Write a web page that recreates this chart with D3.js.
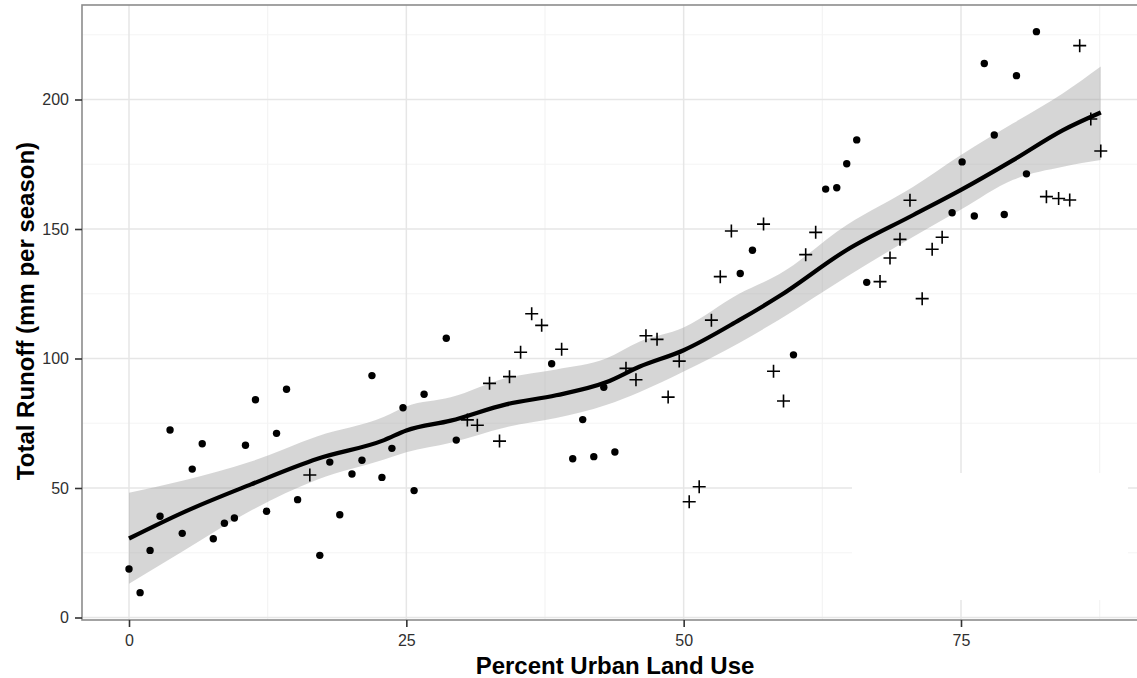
<!DOCTYPE html>
<html>
<head>
<meta charset="utf-8">
<script src="https://cdn.jsdelivr.net/npm/d3@7"></script>
<style>
  html, body { margin: 0; padding: 0; background: #ffffff; }
  svg { display: block; font-family: "Liberation Sans", Arial, sans-serif; }
</style>
</head>
<body>
<div id="chart"></div>
<script>
// --- data ---
// group drawn with filled dots
const dotX = [0.0, 1.0, 1.9, 2.8, 3.7, 4.8, 5.7, 6.6, 7.6, 8.6, 9.5, 10.5, 11.4, 12.4, 13.3, 14.2, 15.2,
  17.2, 18.1, 19.0, 20.1, 21.0, 21.9, 22.8, 23.7, 24.7, 25.7, 26.6, 28.6, 29.5,
  38.1, 40.0, 40.9, 41.9, 42.8, 43.8, 55.1, 56.2, 59.9,
  62.8, 63.8, 64.7, 65.6, 66.5, 74.2, 75.1, 76.2, 77.1, 78.0, 78.9, 80.0, 80.9, 81.8];
const dotY = [18.7, 9.6, 25.9, 39.1, 72.4, 32.5, 57.3, 67.1, 30.4, 36.4, 38.4, 66.5, 84.1, 41.0, 71.1, 88.1, 45.5,
  24.0, 60.0, 39.7, 55.4, 60.7, 93.4, 54.1, 65.3, 81.0, 49.0, 86.2, 107.8, 68.5,
  98.0, 61.3, 76.4, 62.1, 88.9, 63.9, 132.8, 141.8, 101.4,
  165.4, 165.9, 175.2, 184.4, 129.4, 156.3, 175.9, 155.0, 213.9, 186.3, 155.6, 209.2, 171.3, 226.2];

// group drawn with crosses
const crossX = [16.3, 30.5, 31.4, 32.5, 33.4, 34.3, 35.3, 36.3, 37.2, 39.0,
  44.8, 45.7, 46.6, 47.6, 48.6, 49.6, 50.5, 51.4, 52.5, 53.3, 54.3,
  57.2, 58.1, 59.0, 61.0, 61.9, 67.7, 68.6, 69.5, 70.4, 71.5, 72.4, 73.3,
  82.7, 83.8, 84.8, 85.7, 86.7, 87.6];
const crossY = [55.0, 76.3, 74.2, 90.4, 68.1, 93.0, 102.4, 117.3, 112.8, 103.6,
  96.2, 91.8, 108.8, 107.4, 85.1, 99.0, 44.7, 50.5, 114.8, 131.6, 149.2,
  151.9, 95.1, 83.6, 140.1, 148.7, 129.7, 138.8, 146.0, 161.1, 123.1, 142.2, 146.8,
  162.5, 161.8, 161.2, 220.8, 192.5, 180.1];

// smoother: fit and confidence band
const smoothX  = [0, 5, 11, 17, 23, 25, 29, 34, 38.5, 43, 46, 50, 55, 58.6, 64.7, 70.7, 75, 79.7, 84.2, 87.6];
const smoothFit = [30.5, 40.8, 51.4, 61.3, 68.5, 72.2, 76.0, 82.3, 85.8, 90.8, 96.8, 103.2, 114.8, 124.0, 141.9, 155.4, 165.1, 176.6, 188.2, 195.0];
const smoothLo  = [13.0, 26.0, 41.3, 53.3, 61.0, 63.8, 67.5, 73.5, 77.0, 82.0, 87.0, 95.0, 106.0, 115.0, 131.6, 147.0, 157.5, 169.0, 174.0, 176.6];
const smoothHi  = [48.2, 53.0, 60.2, 70.0, 77.5, 81.5, 85.0, 92.5, 95.8, 100.0, 106.5, 112.0, 125.0, 132.5, 151.5, 166.3, 178.6, 190.8, 202.4, 212.7];

// axes
const xMajor = [0, 25, 50, 75];
const xMinor = [12.5, 37.5, 62.5, 87.5];
const yMajor = [0, 50, 100, 150, 200];
const yMinor = [25, 75, 125, 175, 225];

const xTitle = "Percent Urban Land Use";
const yTitle = "Total Runoff (mm per season)";

// --- layout ---
const width = 1137, height = 678;
const panel = { left: 82, top: 5, right: 1148, bottom: 620 };

const x = d3.scaleLinear().domain([0, 75]).range([129, 961]);
const y = d3.scaleLinear().domain([0, 200]).range([617.5, 99.5]);

const svg = d3.select("#chart").append("svg")
  .attr("width", width)
  .attr("height", height);

svg.append("rect").attr("width", width).attr("height", height).attr("fill", "#ffffff");

const clip = svg.append("defs").append("clipPath").attr("id", "panel-clip");
clip.append("rect")
  .attr("x", panel.left).attr("y", panel.top)
  .attr("width", panel.right - panel.left).attr("height", panel.bottom - panel.top);

const g = svg.append("g").attr("clip-path", "url(#panel-clip)");

// grid lines
g.selectAll(".xminor").data(xMinor).join("line")
  .attr("x1", d => x(d)).attr("x2", d => x(d))
  .attr("y1", panel.top).attr("y2", panel.bottom)
  .attr("stroke", "#f4f4f4").attr("stroke-width", 1.2);
g.selectAll(".yminor").data(yMinor).join("line")
  .attr("y1", d => y(d)).attr("y2", d => y(d))
  .attr("x1", panel.left).attr("x2", panel.right)
  .attr("stroke", "#f4f4f4").attr("stroke-width", 1.2);
g.selectAll(".xmajor").data(xMajor).join("line")
  .attr("x1", d => x(d)).attr("x2", d => x(d))
  .attr("y1", panel.top).attr("y2", panel.bottom)
  .attr("stroke", "#e6e6e6").attr("stroke-width", 1.5);
g.selectAll(".ymajor").data(yMajor).join("line")
  .attr("y1", d => y(d)).attr("y2", d => y(d))
  .attr("x1", panel.left).attr("x2", panel.right)
  .attr("stroke", "#e6e6e6").attr("stroke-width", 1.5);

// blanked-out legend area
g.append("rect")
  .attr("x", 852).attr("y", 473)
  .attr("width", 276).attr("height", 127)
  .attr("fill", "#ffffff");

// confidence band and fit
const smooth = smoothX.map((d, i) => ({ x: d, fit: smoothFit[i], lo: smoothLo[i], hi: smoothHi[i] }));

g.append("path")
  .datum(smooth)
  .attr("d", d3.area()
    .x(d => x(d.x))
    .y0(d => y(d.lo))
    .y1(d => y(d.hi))
    .curve(d3.curveMonotoneX))
  .attr("fill", "#999999")
  .attr("fill-opacity", 0.4);

g.append("path")
  .datum(smooth)
  .attr("d", d3.line()
    .x(d => x(d.x))
    .y(d => y(d.fit))
    .curve(d3.curveMonotoneX))
  .attr("fill", "none")
  .attr("stroke", "#000000")
  .attr("stroke-width", 4.2);

// points
g.selectAll(".dot").data(dotX.map((d, i) => [d, dotY[i]])).join("circle")
  .attr("cx", d => x(d[0]))
  .attr("cy", d => y(d[1]))
  .attr("r", 3.7)
  .attr("fill", "#000000");

const arm = 6.5;
g.selectAll(".cross").data(crossX.map((d, i) => [d, crossY[i]])).join("path")
  .attr("d", d => {
    const cx = x(d[0]), cy = y(d[1]);
    return `M${cx - arm},${cy}H${cx + arm}M${cx},${cy - arm}V${cy + arm}`;
  })
  .attr("stroke", "#000000")
  .attr("stroke-width", 1.6)
  .attr("fill", "none");

// panel border
svg.append("rect")
  .attr("x", panel.left).attr("y", panel.top)
  .attr("width", panel.right - panel.left).attr("height", panel.bottom - panel.top)
  .attr("fill", "none")
  .attr("stroke", "#8c8c8c")
  .attr("stroke-width", 1.6);

// axes
const xAxis = svg.append("g")
  .attr("transform", `translate(0,${panel.bottom})`)
  .call(d3.axisBottom(x).tickValues(xMajor).tickSize(7).tickPadding(8));
const yAxis = svg.append("g")
  .attr("transform", `translate(${panel.left},0)`)
  .call(d3.axisLeft(y).tickValues(yMajor).tickSize(7).tickPadding(6));

[xAxis, yAxis].forEach(a => {
  a.select(".domain").remove();
  a.selectAll(".tick line").attr("stroke", "#333333").attr("stroke-width", 1.6);
  a.selectAll(".tick text")
    .attr("fill", "#303030")
    .style("font-size", "16px")
    .style("font-family", "'Liberation Sans', Arial, sans-serif");
});

// titles
svg.append("text")
  .attr("x", 615).attr("y", 674)
  .attr("text-anchor", "middle")
  .style("font-size", "24px")
  .style("font-weight", "bold")
  .attr("fill", "#000000")
  .text(xTitle);

svg.append("text")
  .attr("transform", "translate(34,311) rotate(-90)")
  .attr("text-anchor", "middle")
  .style("font-size", "24px")
  .style("font-weight", "bold")
  .attr("fill", "#000000")
  .text(yTitle);
</script>
</body>
</html>
